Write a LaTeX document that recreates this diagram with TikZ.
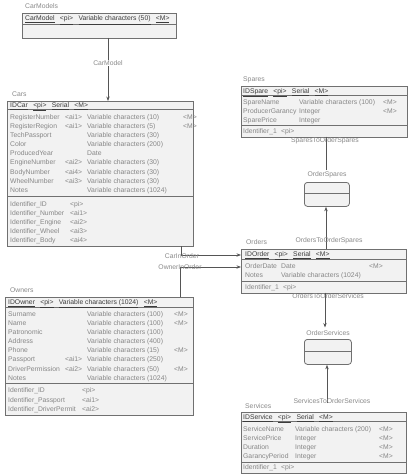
\documentclass[tikz,border=0pt]{standalone}
\usepackage{fontspec}
\setmainfont{Liberation Sans}
\usetikzlibrary{arrows.meta}
\definecolor{bodytxt}{HTML}{868686}
\definecolor{headtxt}{HTML}{3C3C3C}
\definecolor{boxline}{HTML}{707070}
\definecolor{boxfill}{HTML}{F2F2F2}
\definecolor{connline}{HTML}{555555}
\definecolor{lbltxt}{HTML}{8A8A8A}
\newcommand{\hd}[1]{\underline{#1}\hspace{5.3pt}}
\newcommand{\fourcol}[7]{\makebox[#1][l]{#4}\makebox[#2][l]{#5}\makebox[#3][l]{#6}#7}
\newcommand{\carrow}[4]{\fourcol{55pt}{22pt}{96pt}{#1}{#2}{#3}{#4}}
\newcommand{\ownrow}[4]{\fourcol{57pt}{22pt}{87pt}{#1}{#2}{#3}{#4}}
\newcommand{\sparow}[3]{\fourcol{56pt}{0pt}{84pt}{#1}{}{#2}{#3}}
\newcommand{\ordrow}[3]{\fourcol{36pt}{0pt}{88pt}{#1}{}{#2}{#3}}
\newcommand{\serrow}[3]{\fourcol{52pt}{0pt}{84pt}{#1}{}{#2}{#3}}
\newcommand{\idrow}[3]{\makebox[#1][l]{#2}#3}
\tikzset{
 ent/.style={draw=boxline, fill=boxfill, line width=0.8pt, inner sep=0pt, anchor=north west},
 assoc/.style={ent, rounded corners=3pt},
 txt/.style={inner sep=0pt, anchor=base west, font=\fontsize{6.8}{8}\selectfont, text=bodytxt},
 hdr/.style={txt, text=headtxt},
 ename/.style={inner sep=0pt, anchor=base west, font=\fontsize{6.8}{8}\selectfont, text=lbltxt},
 clabel/.style={inner sep=0.5pt, font=\fontsize{6.8}{8}\selectfont, text=lbltxt},
 conn/.style={draw=connline, line width=0.8pt},
 arr/.style={conn, -{Stealth[length=4.5pt,width=3.4pt]}},
 sepline/.style={draw=boxline, line width=0.6pt},
}
\begin{document}
\begin{tikzpicture}[x=1pt,y=-1pt]
\useasboundingbox (0,0) rectangle (417,476);
\fill[white] (0,0) rectangle (417,476);

% ---------- CarModels ----------
\node[ent, minimum width=154pt, minimum height=25pt] (carmodels) at (22,13) {};
\draw[sepline] (22,24) -- (176,24);
\node[ename] (lcarmodels) at (25,8.4) {CarModels};
\node[hdr] (hcarmodels) at (25,20.9) {\hd{CarModel}\hd{<pi>}\hd{Variable characters (50)}\underline{<M>}};

% ---------- Cars ----------
\node[ent, minimum width=186pt, minimum height=145pt] (cars) at (7,101) {};
\draw[sepline] (7,109.5) -- (193,109.5);
\draw[sepline] (7,196) -- (193,196);
\node[ename] (lcars) at (12,96.4) {Cars};
\node[hdr] (hcars) at (10,107.4) {\hd{IDCar}\hd{<pi>}\hd{Serial}\underline{<M>}};
\node[txt] (c1) at (10,119.4) {\carrow{RegisterNumber}{<ai1>}{Variable characters (10)}{<M>}};
\node[txt] (c2) at (10,128.5) {\carrow{RegisterRegion}{<ai1>}{Variable characters (5)}{<M>}};
\node[txt] (c3) at (10,137.6) {\carrow{TechPassport}{}{Variable characters (30)}{}};
\node[txt] (c4) at (10,146.7) {\carrow{Color}{}{Variable characters (200)}{}};
\node[txt] (c5) at (10,155.8) {\carrow{ProducedYear}{}{Date}{}};
\node[txt] (c6) at (10,164.9) {\carrow{EngineNumber}{<ai2>}{Variable characters (30)}{}};
\node[txt] (c7) at (10,174.0) {\carrow{BodyNumber}{<ai4>}{Variable characters (30)}{}};
\node[txt] (c8) at (10,183.1) {\carrow{WheelNumber}{<ai3>}{Variable characters (30)}{}};
\node[txt] (c9) at (10,192.2) {\carrow{Notes}{}{Variable characters (1024)}{}};
\node[txt] (ci1) at (10,206.4) {\idrow{60pt}{Identifier\_ID}{<pi>}};
\node[txt] (ci2) at (10,215.5) {\idrow{60pt}{Identifier\_Number}{<ai1>}};
\node[txt] (ci3) at (10,224.6) {\idrow{60pt}{Identifier\_Engine}{<ai2>}};
\node[txt] (ci4) at (10,233.7) {\idrow{60pt}{Identifier\_Wheel}{<ai3>}};
\node[txt] (ci5) at (10,242.8) {\idrow{60pt}{Identifier\_Body}{<ai4>}};

% ---------- Owners ----------
\node[ent, minimum width=188pt, minimum height=117.5pt] (owners) at (5,297) {};
\draw[sepline] (5,307) -- (193,307);
\draw[sepline] (5,383.5) -- (193,383.5);
\node[ename] (lowners) at (10,292.4) {Owners};
\node[hdr] (howners) at (8,304.4) {\hd{IDOwner}\hd{<pi>}\hd{Variable characters (1024)}\underline{<M>}};
\node[txt] (o1) at (8,316.4) {\ownrow{Surname}{}{Variable characters (100)}{<M>}};
\node[txt] (o2) at (8,325.5) {\ownrow{Name}{}{Variable characters (100)}{<M>}};
\node[txt] (o3) at (8,334.6) {\ownrow{Patronomic}{}{Variable characters (100)}{}};
\node[txt] (o4) at (8,343.7) {\ownrow{Address}{}{Variable characters (400)}{}};
\node[txt] (o5) at (8,352.8) {\ownrow{Phone}{}{Variable characters (15)}{<M>}};
\node[txt] (o6) at (8,361.9) {\ownrow{Passport}{<ai1>}{Variable characters (250)}{}};
\node[txt] (o7) at (8,371.0) {\ownrow{DriverPermission}{<ai2>}{Variable characters (50)}{<M>}};
\node[txt] (o8) at (8,380.1) {\ownrow{Notes}{}{Variable characters (1024)}{}};
\node[txt] (oi1) at (8,392.9) {\idrow{74pt}{Identifier\_ID}{<pi>}};
\node[txt] (oi2) at (8,402.0) {\idrow{74pt}{Identifier\_Passport}{<ai1>}};
\node[txt] (oi3) at (8,411.1) {\idrow{74pt}{Identifier\_DriverPermit}{<ai2>}};

% ---------- Spares ----------
\node[ent, minimum width=166pt, minimum height=50.5pt] (spares) at (241,86) {};
\draw[sepline] (241,95.5) -- (407,95.5);
\draw[sepline] (241,125.5) -- (407,125.5);
\node[ename] (lspares) at (243,81.4) {Spares};
\node[hdr] (hspares) at (243,93.4) {\hd{IDSpare}\hd{<pi>}\hd{Serial}\underline{<M>}};
\node[txt] (s1) at (243,104.4) {\sparow{SpareName}{Variable characters (100)}{<M>}};
\node[txt] (s2) at (243,113.4) {\sparow{ProducerGarancy}{Integer}{<M>}};
\node[txt] (s3) at (243,122.4) {\sparow{SparePrice}{Integer}{}};
\node[txt] (si1) at (243,133.4) {\idrow{38pt}{Identifier\_1}{<pi>}};

% ---------- Orders ----------
\node[ent, minimum width=165pt, minimum height=43.5pt] (orders) at (241,249) {};
\draw[sepline] (241,259) -- (406,259);
\draw[sepline] (241,281.5) -- (406,281.5);
\node[ename] (lorders) at (246,244.4) {Orders};
\node[hdr] (horders) at (245,256.4) {\hd{IDOrder}\hd{<pi>}\hd{Serial}\underline{<M>}};
\node[txt] (r1) at (245,268.9) {\ordrow{OrderDate}{Date}{<M>}};
\node[txt] (r2) at (245,277.9) {\ordrow{Notes}{Variable characters (1024)}{}};
\node[txt] (ri1) at (245,289.4) {\idrow{38pt}{Identifier\_1}{<pi>}};

% ---------- Services ----------
\node[ent, minimum width=165pt, minimum height=61pt] (services) at (241,412) {};
\draw[sepline] (241,421.5) -- (406,421.5);
\draw[sepline] (241,462) -- (406,462);
\node[ename] (lservices) at (245,408.4) {Services};
\node[hdr] (hservices) at (243,419.4) {\hd{IDService}\hd{<pi>}\hd{Serial}\underline{<M>}};
\node[txt] (v1) at (243,431.4) {\serrow{ServiceName}{Variable characters (200)}{<M>}};
\node[txt] (v2) at (243,440.4) {\serrow{ServicePrice}{Integer}{<M>}};
\node[txt] (v3) at (243,449.4) {\serrow{Duration}{Integer}{<M>}};
\node[txt] (v4) at (243,458.4) {\serrow{GarancyPeriod}{Integer}{<M>}};
\node[txt] (vi1) at (243,469.9) {\idrow{38pt}{Identifier\_1}{<pi>}};

% ---------- associations ----------
\node[assoc, minimum width=45pt, minimum height=24pt] (orderspares) at (304,182) {};
\draw[sepline] (304,193) -- (349,193);
\node[clabel] (lorderspares) at (327,175) {OrderSpares};
\node[assoc, minimum width=47pt, minimum height=25pt] (orderservices) at (304,339) {};
\draw[sepline] (304,351) -- (351,351);
\node[clabel] (lorderservices) at (328,333) {OrderServices};

% ---------- connector points ----------
\coordinate (cmA) at (108,38);
\coordinate (carB) at (181,246);
\coordinate (ordA) at (241,255);
\coordinate (ownA) at (180,297);
\coordinate (ordB) at (241,267);
\coordinate (spB) at (326,136.5);
\coordinate (osT) at (326,170);
\coordinate (ordT) at (326,249);
\coordinate (ordD) at (325,292.5);
\coordinate (oseT) at (325,327.5);
\coordinate (serT) at (327,403);

% ---------- connectors ----------
\draw[arr] (cmA) -- (cmA |- cars.north);
\draw[arr] (carB) |- (ordA);
\draw[arr] (ownA) |- (ordB);
\draw[conn] (spB) -- (osT);
\draw[arr] (ordT) -- (ordT |- orderspares.south);
\draw[arr] (ordD) -- (oseT);
\draw[arr] (serT) -- (serT |- orderservices.south);

% ---------- connector labels ----------
\node[clabel, fill=white] (lcm) at (108,63) {CarModel};
\node[clabel] (lcio) at (182,256) {CarInOrder};
\node[clabel] (loio) at (180,267) {OwnerInOrder};
\node[clabel] (lsos) at (325,141) {SparesToOrderSpares};
\node[clabel] (lotos) at (329,241) {OrdersToOrderSpares};
\node[clabel] (lotose) at (328,296.5) {OrdersToOrderServices};
\node[clabel] (lstose) at (332,401) {ServicesToOrderServices};
\end{tikzpicture}
\end{document}
